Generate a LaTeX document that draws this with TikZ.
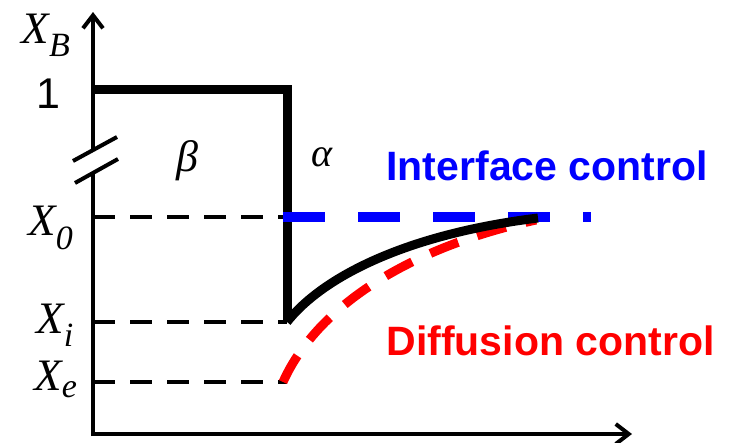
\documentclass[tikz,border=0pt]{standalone}
\usepackage{fontspec}
\setmainfont{Liberation Serif}
\setsansfont{Liberation Sans}
\usetikzlibrary{arrows.meta}
\definecolor{phaseblue}{RGB}{0,0,255}
\definecolor{phasered}{RGB}{255,0,0}

\begin{document}
\begin{tikzpicture}[x=1pt,y=-1pt,>={Straight Barb[length=13pt,width=20pt,line width=4pt]},
  axisline/.style={line width=4.5pt,line cap=butt},
  levelline/.style={line width=4pt,dash pattern=on 22pt off 15pt},
  varlabel/.style={anchor=base,font=\fontsize{45}{50}\selectfont\itshape},
  ctrllabel/.style={anchor=base west,font=\fontsize{41}{46}\selectfont\sffamily\bfseries}]
 \useasboundingbox (0,0) rectangle (739,442);
 % axes with a break on the vertical one
 \draw[axisline] (93,436)--(93,172);
 \draw[axisline,->] (93,150)--(93,12);
 \draw[axisline,->] (91,434)--(632,434);
 \draw[line width=4pt] (73,161)--(117,137);
 \draw[line width=4pt] (75,183)--(118,159);
 % composition levels
 \draw[levelline] (93,217)--(287,217);
 \draw[levelline] (93,322)--(287,322);
 \draw[levelline] (93,382)--(287,382);
 % beta / alpha step profile
 \draw[line width=9pt,line join=miter] (93,89)--(287,89)--(287,322);
 % limiting cases
 \draw[phaseblue,line width=10pt,dash pattern=on 42pt off 33pt] (283,217)--(591,217);
 \draw[phasered,line width=9pt,dash pattern=on 30pt off 20pt]
   (283,382) .. controls (320,300) and (420,245) .. (536,220);
 \draw[line width=9pt,line cap=butt]
   (287,322) .. controls (320,280) and (400,235) .. (538,218);
 % labels
 \node[varlabel] (xb) at (46,43) {X\textsubscript{\fontsize{34}{34}\selectfont B}};
 \node[varlabel] (xo) at (51,235) {X\textsubscript{\fontsize{34}{34}\selectfont 0}};
 \node[varlabel] (xi) at (55,333) {X\textsubscript{\fontsize{34}{34}\selectfont i}};
 \node[varlabel] (xe) at (56,390) {X\textsubscript{\fontsize{34}{34}\selectfont e}};
 \node[anchor=base,font=\fontsize{43}{48}\selectfont\sffamily] (one) at (48,108) {1};
 \node[font=\fontsize{44}{48}\selectfont\itshape] (beta) at (187,161) {β};
 \node[font=\fontsize{40}{44}\selectfont\itshape] (alpha) at (322,157) {α};
 \node[ctrllabel,phaseblue] (iface) at (383,180) {Interface control};
 \node[ctrllabel,phasered] (diff) at (383,355) {Diffusion control};
\end{tikzpicture}
\end{document}
